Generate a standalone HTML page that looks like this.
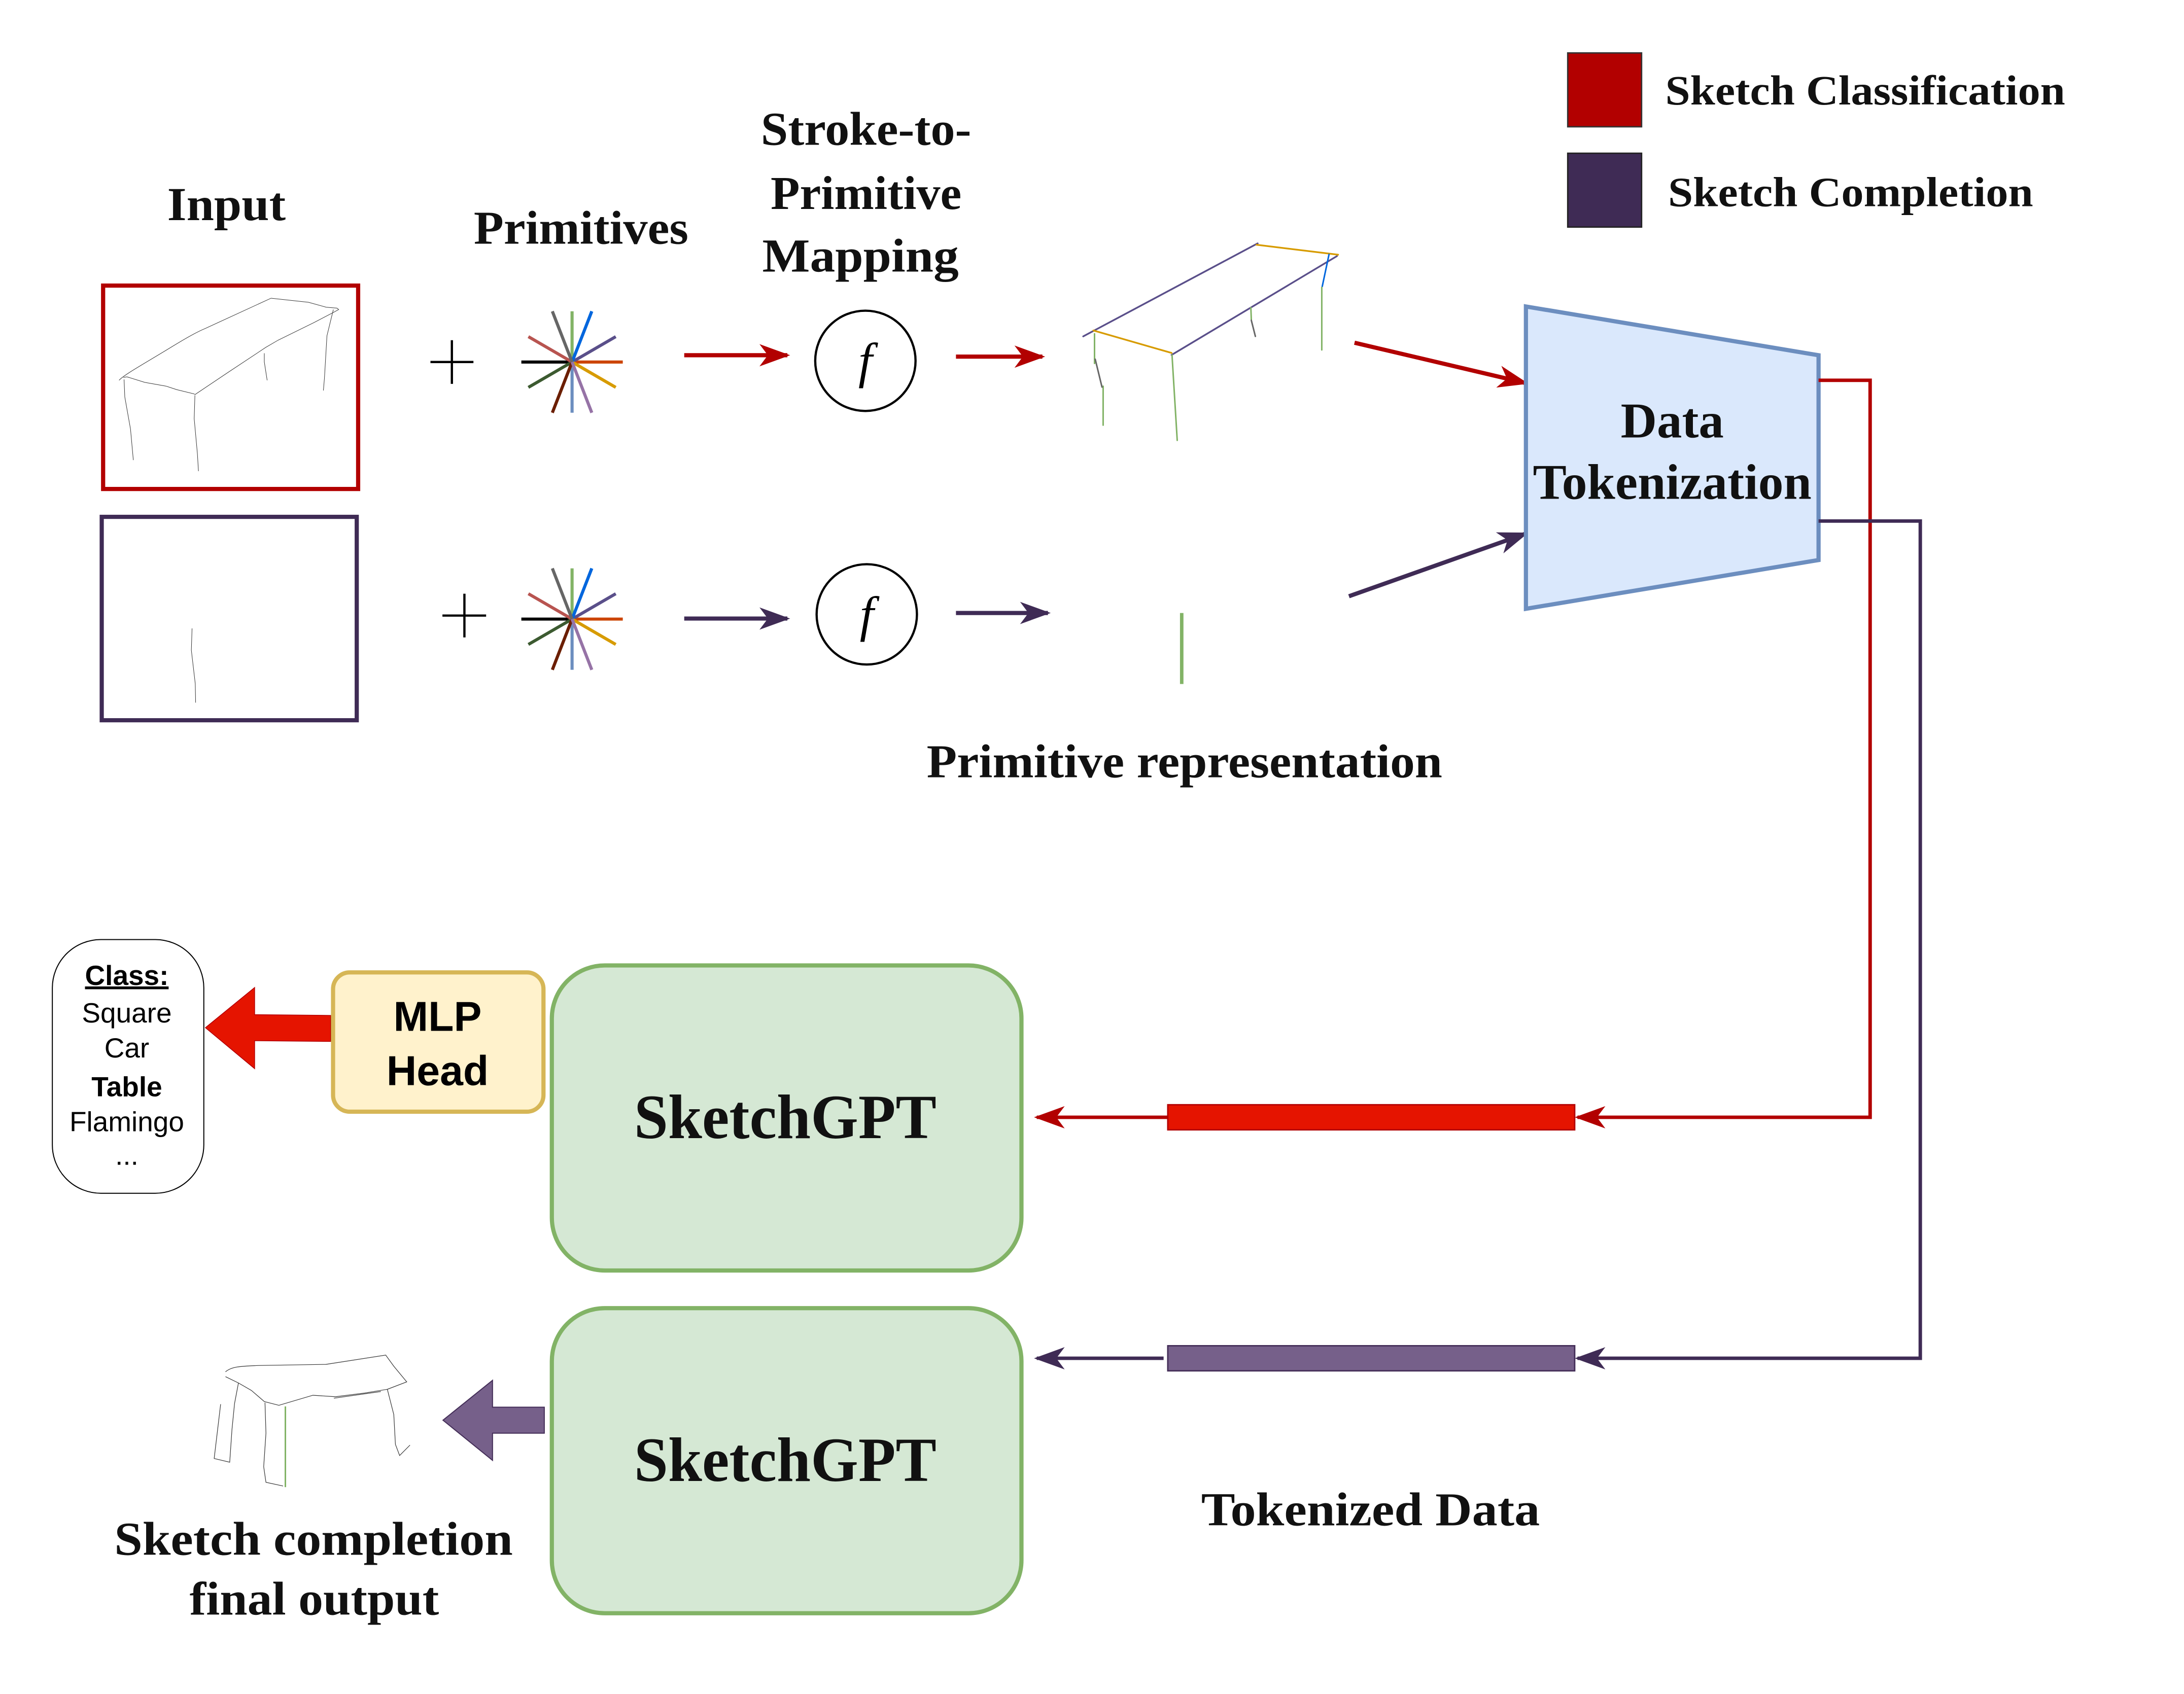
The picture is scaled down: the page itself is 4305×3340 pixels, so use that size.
<!DOCTYPE html>
<html><head><meta charset="utf-8"><style>html,body{margin:0;padding:0;background:#fff}svg{display:block}</style></head><body>
<svg width="4305" height="3340" viewBox="0 0 1550 1202.6" preserveAspectRatio="none" xmlns="http://www.w3.org/2000/svg">
<defs>
<marker id="arb" markerWidth="22" markerHeight="16" refX="20" refY="8" orient="auto" markerUnits="userSpaceOnUse"><path d="M0,0 L22,8 L0,16 L6,8z" fill="#b20000"/></marker>
<marker id="apb" markerWidth="22" markerHeight="16" refX="20" refY="8" orient="auto" markerUnits="userSpaceOnUse"><path d="M0,0 L22,8 L0,16 L6,8z" fill="#3f2b55"/></marker>
<g id="star" stroke-width="2.2">
<line x1="0" y1="0" x2="-36" y2="0" stroke="#000"/>
<line x1="0" y1="0" x2="36" y2="0" stroke="#cc4400"/>
<line x1="0" y1="0" x2="0" y2="-36" stroke="#82b366"/>
<line x1="0" y1="0" x2="0" y2="36" stroke="#6c8ebf"/>
<line x1="0" y1="0" x2="31" y2="-18" stroke="#5a4f8a"/>
<line x1="0" y1="0" x2="-31" y2="18" stroke="#3c5a30"/>
<line x1="0" y1="0" x2="-31" y2="-18" stroke="#b85450"/>
<line x1="0" y1="0" x2="31" y2="18" stroke="#d79b00"/>
<line x1="0" y1="0" x2="14" y2="-36" stroke="#0066dd"/>
<line x1="0" y1="0" x2="-14" y2="36" stroke="#6b1e00"/>
<line x1="0" y1="0" x2="-14" y2="-36" stroke="#666"/>
<line x1="0" y1="0" x2="14" y2="36" stroke="#9673a6"/>
</g>
</defs>
<g transform="translate(64.82,198.06) scale(0.2526,0.2067)" fill="none" stroke="#333" stroke-width="1">
<path vector-effect="non-scaling-stroke" d="M78,348 C90,330 150,290 230,230 C270,200 300,180 320,170 L505,66 L610,80 L660,97 L690,100 L695,105 L680,115 L625,150 L600,165 L525,210 L490,235 L385,320 L290,398"/>
<path vector-effect="non-scaling-stroke" d="M90,338 L100,336 L150,355 L210,368 L240,380 L290,395"/>
<path vector-effect="non-scaling-stroke" d="M92,345 L94,405 L110,515 L118,622"/>
<path vector-effect="non-scaling-stroke" d="M291,400 L289,480 L298,600 L301,660"/>
<path vector-effect="non-scaling-stroke" d="M486,255 L486,285 L494,348"/>
<path vector-effect="non-scaling-stroke" d="M680,105 L662,195 L655,340 L652,383"/>
<path vector-effect="non-scaling-stroke" d="M283,1200 L281,1275 L292,1390 L293,1455"/>
</g>
<path d="M305.5,257 H336 M320.7,241.5 V272.5" stroke="#000" stroke-width="1.6"/>
<path d="M314,437 H345 M329.6,421.5 V452.5" stroke="#000" stroke-width="1.6"/>
<use href="#star" x="406" y="257"/>
<use href="#star" x="406" y="439.5"/>
<g transform="translate(738.2,162) scale(0.1608,0.12)" fill="none" stroke-linecap="round">
<path vector-effect="non-scaling-stroke" stroke-width="3.4" stroke="#5a4f8a" d="M190,640 L960,90 M580,750 L1310,165"/>
<path vector-effect="non-scaling-stroke" stroke-width="3.4" stroke="#d79b00" d="M235,605 L580,738 M955,98 L1315,157"/>
<path vector-effect="non-scaling-stroke" stroke-width="3" stroke="#0066dd" d="M1275,155 L1245,345"/>
<path vector-effect="non-scaling-stroke" stroke-width="3" stroke="#82b366" d="M240,625 L240,800 M278,935 L278,1165 M582,750 L605,1255 M930,470 L932,540 M1243,350 L1243,720"/>
<path vector-effect="non-scaling-stroke" stroke-width="3" stroke="#666" d="M243,775 L273,940 M932,545 L950,640"/>
</g>
<g transform="translate(36,666.2) scale(0.2297,0.2641)">
<path vector-effect="non-scaling-stroke" d="M865,207 L630,205 L630,132 L478,240 L630,350 L630,275 L865,277z" fill="#e51400" stroke="#b20000" stroke-width="1.5"/>
<path vector-effect="non-scaling-stroke" d="M1525,1260 L1365,1260 L1365,1188 L1212,1295 L1365,1403 L1365,1330 L1525,1330z" fill="#76608a" stroke="#432d57" stroke-width="2"/>
<rect vector-effect="non-scaling-stroke" x="5" y="3" width="468" height="682" rx="150" ry="130" fill="#fff" stroke="#000" stroke-width="2"/>
<g fill="none" stroke="#333" stroke-width="1.2">
<path vector-effect="non-scaling-stroke" d="M540,1165 C560,1150 590,1150 640,1148 L850,1145 L1035,1120 L1060,1150 L1100,1192 L1040,1212 L970,1222 L880,1232 L810,1228 L705,1255 L660,1245 L620,1215 L580,1195 L540,1178"/>
<path vector-effect="non-scaling-stroke" d="M580,1195 L568,1250 L560,1320 L553,1408 L505,1398 L525,1252"/>
<path vector-effect="non-scaling-stroke" d="M662,1248 L665,1330 L658,1420 L665,1462 L718,1472"/>
<path vector-effect="non-scaling-stroke" d="M1040,1212 L1060,1280 L1065,1360 L1078,1390 L1110,1362"/>
<path vector-effect="non-scaling-stroke" d="M875,1236 L1020,1218"/>
</g>
<line vector-effect="non-scaling-stroke" x1="725" y1="1258" x2="725" y2="1475" stroke="#82b366" stroke-width="3"/>
</g>
<g transform="scale(0.989)">
<rect x="74" y="205" width="183" height="146" fill="none" stroke="#b20000" stroke-width="3"/>
<rect x="73" y="371" width="183" height="146" fill="none" stroke="#3f2b55" stroke-width="3"/>
<line x1="848" y1="440" x2="848" y2="491" stroke="#82b366" stroke-width="2.5"/>
<g font-family="'Liberation Serif',serif" font-weight="bold" fill="#111" font-size="34">
<text x="120" y="158" textLength="85" lengthAdjust="spacingAndGlyphs">Input</text>
<text x="340" y="175" textLength="154" lengthAdjust="spacingAndGlyphs">Primitives</text>
<text x="546" y="104" textLength="151" lengthAdjust="spacingAndGlyphs">Stroke-to-</text>
<text x="553" y="150" textLength="137" lengthAdjust="spacingAndGlyphs">Primitive</text>
<text x="547" y="195" textLength="141" lengthAdjust="spacingAndGlyphs">Mapping</text>
<text x="1195" y="75" font-size="30" textLength="287" lengthAdjust="spacingAndGlyphs">Sketch Classification</text>
<text x="1197" y="148" font-size="30" textLength="262" lengthAdjust="spacingAndGlyphs">Sketch Completion</text>
<text x="665" y="558" textLength="370" lengthAdjust="spacingAndGlyphs">Primitive representation</text>
<text x="862" y="1095" textLength="243" lengthAdjust="spacingAndGlyphs">Tokenized Data</text>
<text x="82" y="1116" textLength="286" lengthAdjust="spacingAndGlyphs">Sketch completion</text>
<text x="136" y="1159" textLength="179" lengthAdjust="spacingAndGlyphs">final output</text>
</g>
<rect x="1125" y="38" width="53" height="53" fill="#b20000" stroke="#333" stroke-width="1"/>
<rect x="1125" y="110" width="53" height="53" fill="#3f2b55" stroke="#222" stroke-width="1"/>
<line x1="491" y1="255" x2="565" y2="255" stroke="#b20000" stroke-width="3" marker-end="url(#arb)"/>
<line x1="686" y1="256" x2="748" y2="256" stroke="#b20000" stroke-width="3" marker-end="url(#arb)"/>
<line x1="491" y1="444" x2="565" y2="444" stroke="#3f2b55" stroke-width="3" marker-end="url(#apb)"/>
<line x1="686" y1="440" x2="752" y2="440" stroke="#3f2b55" stroke-width="3" marker-end="url(#apb)"/>
<circle cx="621" cy="259" r="36" fill="#fff" stroke="#000" stroke-width="1.6"/>
<circle cx="622" cy="441" r="36" fill="#fff" stroke="#000" stroke-width="1.6"/>
<text x="621" y="271" font-family="'Liberation Serif',serif" font-style="italic" font-size="36" text-anchor="middle">f</text>
<text x="622" y="453" font-family="'Liberation Serif',serif" font-style="italic" font-size="36" text-anchor="middle">f</text>
<line x1="972" y1="246" x2="1095" y2="275" stroke="#b20000" stroke-width="3" marker-end="url(#arb)"/>
<line x1="968" y1="428" x2="1095" y2="383" stroke="#3f2b55" stroke-width="3" marker-end="url(#apb)"/>
<polygon points="1095,220 1305,255 1305,402 1095,437" fill="#dae8fc" stroke="#6c8ebf" stroke-width="3"/>
<g font-family="'Liberation Serif',serif" font-weight="bold" font-size="36" fill="#111">
<text x="1163" y="314" textLength="74" lengthAdjust="spacingAndGlyphs">Data</text>
<text x="1100" y="358" textLength="200" lengthAdjust="spacingAndGlyphs">Tokenization</text>
</g>
<polyline points="1305,273 1342,273 1342,802 1132,802" fill="none" stroke="#b20000" stroke-width="2.5" marker-end="url(#arb)"/>
<polyline points="1305,374 1378,374 1378,975 1132,975" fill="none" stroke="#3f2b55" stroke-width="2.5" marker-end="url(#apb)"/>
<rect x="838" y="793" width="292" height="18" fill="#e51400" stroke="#b20000" stroke-width="1"/>
<rect x="838" y="966" width="292" height="18" fill="#76608a" stroke="#432d57" stroke-width="1"/>
<line x1="838" y1="802" x2="744" y2="802" stroke="#b20000" stroke-width="2.5" marker-end="url(#arb)"/>
<line x1="835" y1="975" x2="744" y2="975" stroke="#3f2b55" stroke-width="2.5" marker-end="url(#apb)"/>
<rect x="396" y="693" width="337" height="219" rx="38" fill="#d5e8d4" stroke="#82b366" stroke-width="3"/>
<rect x="396" y="939" width="337" height="219" rx="38" fill="#d5e8d4" stroke="#82b366" stroke-width="3"/>
<g font-family="'Liberation Serif',serif" font-weight="bold" font-size="45" fill="#111">
<text x="455" y="817" textLength="217" lengthAdjust="spacingAndGlyphs">SketchGPT</text>
<text x="455" y="1063" textLength="217" lengthAdjust="spacingAndGlyphs">SketchGPT</text>
</g>
<rect x="239" y="698" width="151" height="100" rx="12" fill="#fff2cc" stroke="#d6b656" stroke-width="3"/>
<g font-family="'Liberation Sans',sans-serif" font-weight="bold" font-size="30" text-anchor="middle" fill="#000">
<text x="314" y="740">MLP</text>
<text x="314" y="779">Head</text>
</g>
<g font-family="'Liberation Sans',sans-serif" font-size="20" text-anchor="middle" fill="#000">
<text x="91" y="707" font-weight="bold" text-decoration="underline">Class:</text>
<text x="91" y="734">Square</text>
<text x="91" y="759">Car</text>
<text x="91" y="787" font-weight="bold">Table</text>
<text x="91" y="812">Flamingo</text>
<text x="91" y="836">...</text>
</g>
</g>
</svg>
</body></html>
